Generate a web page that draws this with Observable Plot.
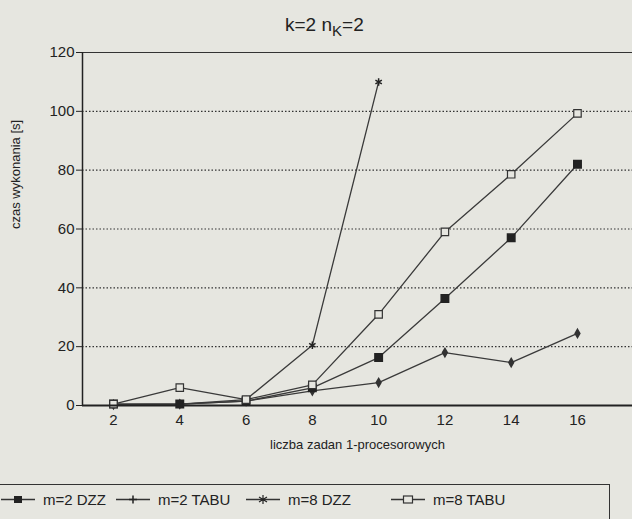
<!DOCTYPE html>
<html><head><meta charset="utf-8">
<script src="https://cdn.jsdelivr.net/npm/d3@7"></script>
<script src="https://cdn.jsdelivr.net/npm/@observablehq/plot@0.6"></script>
<style>
body{margin:0;background:#e6e6e0;font-family:"Liberation Sans",Arial,sans-serif;color:#222;width:632px;height:519px;overflow:hidden;position:relative}
#title{position:absolute;top:14px;left:285px;font-size:19px;white-space:nowrap}
#title sub{font-size:15px;vertical-align:-5px}
#chart{position:absolute;top:40px;left:0}
#legend{position:absolute;top:484px;left:-2px;width:612px;height:40px;border:1px solid #333;box-sizing:border-box;font-size:15px}
.li{position:absolute;top:6px;display:flex;align-items:center;white-space:nowrap}
.li svg{margin-right:8px}
</style></head><body>
<div id="title">k=2 n<sub>K</sub>=2</div>
<div id="chart"></div>
<div id="legend"></div>
<script>
const xs = [2, 4, 6, 8, 10, 12, 14, 16];
const m2DZZ  = [0.5, 0.5, 1.5, 6, 16.3, 36.4, 57, 82];
const m2TABU = [0.3, 0.5, 1.5, 5, 7.8, 18, 14.6, 24.5];
const m8DZZ_x = [2, 4, 6, 8, 10];
const m8DZZ  = [0.5, 0.5, 2, 20.5, 110];
const m8TABU = [0.5, 6.1, 2, 7, 31, 59, 78.6, 99.3];
const seriesNames = ["m=2 DZZ", "m=2 TABU", "m=8 DZZ", "m=8 TABU"];
const yTicks = [0, 20, 40, 60, 80, 100, 120];
const gridTicks = [20, 40, 60, 80, 100];

const rows = [];
xs.forEach((x,i)=>rows.push({s:seriesNames[0],x,y:m2DZZ[i]}));
xs.forEach((x,i)=>rows.push({s:seriesNames[1],x,y:m2TABU[i]}));
m8DZZ_x.forEach((x,i)=>rows.push({s:seriesNames[2],x,y:m8DZZ[i]}));
xs.forEach((x,i)=>rows.push({s:seriesNames[3],x,y:m8TABU[i]}));
const by = s => rows.filter(r=>r.s===s);

const lineCol = "#3a3a3a";
const bg = "#e6e6e0";

const plot = Plot.plot({
  width: 632, height: 420,
  marginLeft: 82, marginRight: 0, marginTop: 12, marginBottom: 55,
  style: {background: "transparent", fontFamily: "Liberation Sans, Arial, sans-serif", fontSize: "14px", color: "#222"},
  x: {domain: [1.065, 17.66], ticks: xs, tickSize: 0, tickPadding: 9, label: null},
  y: {domain: [0, 120], ticks: yTicks, tickSize: 6, tickPadding: 2, label: null},
  marks: [
    Plot.ruleY(gridTicks, {stroke: "#333", strokeDasharray: "1.5,2", strokeWidth: 1.2}),
    Plot.ruleY([120], {stroke: "#333", strokeWidth: 1.2}),
    Plot.ruleX([1.065], {stroke: "#222", strokeWidth: 1.5}),
    Plot.axisX({ticks: xs, tickSize: 0, tickPadding: 9, fontSize: 15, label: null}),
    Plot.axisY({ticks: yTicks, tickSize: 6, tickPadding: 2, fontSize: 15, label: null}),
    Plot.text(["liczba zadan 1-procesorowych"], {frameAnchor: "bottom", dy: 43, fontSize: 13}),
    Plot.text(["czas wykonania [s]"], {frameAnchor: "left", dx: -67, rotate: -90, fontSize: 13}),
    Plot.line(by(seriesNames[2]), {x: "x", y: "y", stroke: lineCol, strokeWidth: 1.3}),
    Plot.line(by(seriesNames[3]), {x: "x", y: "y", stroke: lineCol, strokeWidth: 1.3}),
    Plot.line(by(seriesNames[0]), {x: "x", y: "y", stroke: lineCol, strokeWidth: 1.3}),
    Plot.line(by(seriesNames[1]), {x: "x", y: "y", stroke: lineCol, strokeWidth: 1.3}),
    Plot.dot(by(seriesNames[2]), {x: "x", y: "y", symbol: "asterisk", r: 3.5, stroke: "#222", strokeWidth: 1.5}),
    Plot.dot(by(seriesNames[1]), {x: "x", y: "y", symbol: "diamond", r: 2.5, fill: "#333", stroke: "#333"}),
    Plot.dot(by(seriesNames[0]), {x: "x", y: "y", symbol: "square", r: 4.2, fill: "#222", stroke: "#222"}),
    Plot.dot(by(seriesNames[3]), {x: "x", y: "y", symbol: "square", r: 4.2, fill: bg, stroke: "#333", strokeWidth: 1.2}),
    Plot.ruleY([0], {stroke: "#222", strokeWidth: 2})
  ]
});
document.getElementById("chart").appendChild(plot);

// legend
const legendPos = [0, 115, 245, 390];
const sym = [
  '<rect x="13" y="4" width="8" height="7" fill="#222"/>',
  '<path d="M17 3.5v8M13 7.5h8" stroke="#222" stroke-width="1.5"/>',
  '<path d="M17 3v9M13 5l8 5M13 10l8-5" stroke="#222" stroke-width="1.2"/>',
  '<rect x="12.5" y="4" width="9" height="7" fill="'+bg+'" stroke="#333" stroke-width="1.2"/>'
];
const leg = document.getElementById("legend");
seriesNames.forEach((n,i)=>{
  const d = document.createElement("div");
  d.className = "li";
  d.style.left = (legendPos[i] + 2) + "px";
  d.innerHTML = '<svg width="34" height="15"><line x1="0" y1="7.5" x2="34" y2="7.5" stroke="#333" stroke-width="1.3"/>' + sym[i] + '</svg><span>' + n + '</span>';
  leg.appendChild(d);
});
</script>
</body></html>
